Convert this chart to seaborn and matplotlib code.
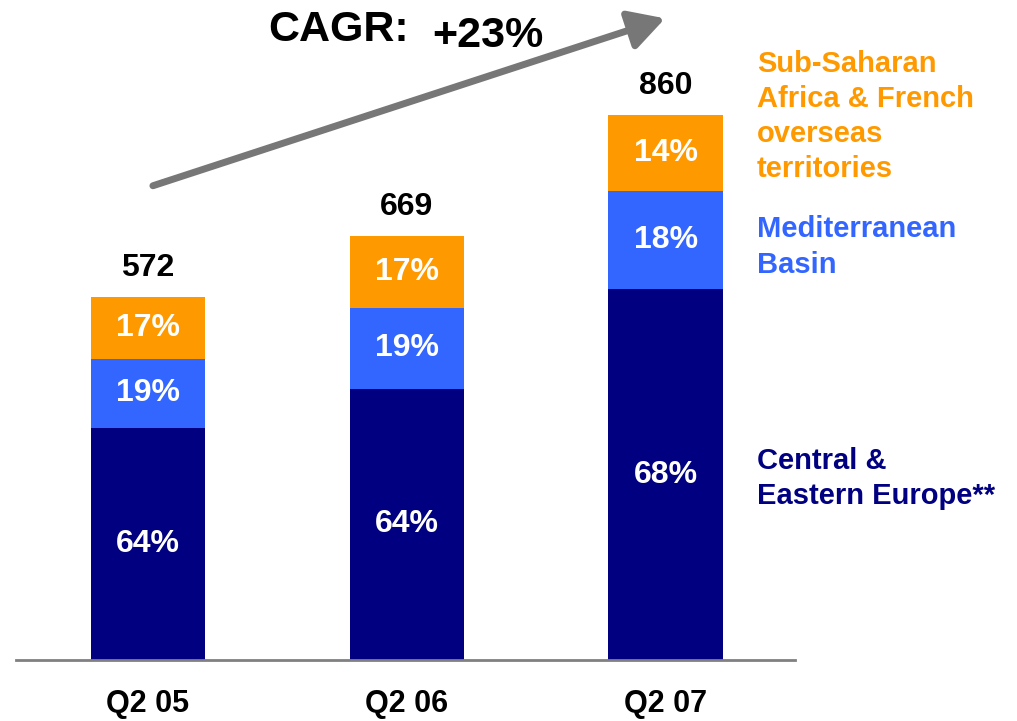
import matplotlib
matplotlib.use("Agg")
import matplotlib.pyplot as plt
import seaborn as sns
import numpy as np
import pandas as pd

# data
quarters = ["Q2 05", "Q2 06", "Q2 07"]
totals = [572, 669, 860]
pct_central = [64, 64, 68]
pct_med = [19, 19, 18]
pct_africa = [17, 17, 14]

NAVY = "#000080"
BLUE = "#3366FF"
ORANGE = "#FF9900"

sns.set_theme(style="white")
plt.rcParams["font.family"] = ["Liberation Sans", "DejaVu Sans"]
plt.rcParams["font.weight"] = "bold"
plt.rcParams["text.color"] = "black"

tot = np.array(totals, dtype=float)
central = tot * np.array(pct_central) / 100
med = tot * np.array(pct_med) / 100
africa = tot * np.array(pct_africa) / 100

df = pd.DataFrame({
    "quarter": quarters,
    "top": central + med + africa,
    "mid": central + med,
    "low": central,
})

fig = plt.figure(figsize=(10.17, 7.21), dpi=100)
ax = fig.add_axes([16 / 1017, 61 / 721, 779 / 1017, 660 / 721])

# stacked bars: draw cumulative heights back to front
for col, color in [("top", ORANGE), ("mid", BLUE), ("low", NAVY)]:
    sns.barplot(data=df, x="quarter", y=col, color=color, width=0.442,
                saturation=1, ax=ax, linewidth=0)

ax.set_xlim(-0.51, 2.50)
ax.set_ylim(0, 1041)

# segment labels
for i in range(len(quarters)):
    segs = [(0, central[i], pct_central[i]),
            (central[i], central[i] + med[i], pct_med[i]),
            (central[i] + med[i], tot[i], pct_africa[i])]
    for lo, hi, p in segs:
        ax.text(i, (lo + hi) / 2, f"{p}%", ha="center", va="center",
                color="white", fontsize=23, fontweight="bold")
    ax.annotate(f"{totals[i]}", (i, tot[i]), xytext=(0, 21), textcoords="offset points",
                ha="center", va="center", fontsize=23, fontweight="bold", color="black")

# axes styling
for s in ["top", "right", "left"]:
    ax.spines[s].set_visible(False)
ax.spines["bottom"].set_color("#808080")
ax.spines["bottom"].set_linewidth(2)
ax.set_yticks([])
ax.set_xlabel("")
ax.set_ylabel("")
ax.set_xticks([])
ax.patch.set_alpha(0)
for i, q in enumerate(quarters):
    ax.annotate(q, (i, 0), xytext=(0, -32), textcoords="offset points",
                ha="center", va="center", fontsize=22, fontweight="bold",
                color="black", annotation_clip=False)

# CAGR arrow
ax.annotate("", xy=(1.998, 1012), xytext=(0.019, 748),
            arrowprops=dict(arrowstyle="-|>,head_width=1.0,head_length=1.8",
                            color="#777777", lw=5, shrinkA=0, shrinkB=0),
            annotation_clip=False)
fig.text(268 / 1017, 1 - 30 / 721, "CAGR:", ha="left", va="center",
         fontsize=31, fontweight="bold", color="black")
fig.text(432 / 1017, 1 - 36 / 721, "+23%", ha="left", va="center",
         fontsize=31, fontweight="bold", color="black")

# series labels on the right
fig.text(757 / 1017, 1 - 116.5 / 721, "Sub-Saharan\nAfrica & French\noverseas\nterritories",
         ha="left", va="center", color=ORANGE, fontsize=21, fontweight="bold",
         linespacing=1.33)
fig.text(757 / 1017, 1 - 247 / 721, "Mediterranean\nBasin",
         ha="left", va="center", color=BLUE, fontsize=21, fontweight="bold",
         linespacing=1.33)
fig.text(757 / 1017, 1 - 478.5 / 721, "Central &\nEastern Europe**",
         ha="left", va="center", color=NAVY, fontsize=21, fontweight="bold",
         linespacing=1.33)

fig.savefig("out.png", dpi=100)
